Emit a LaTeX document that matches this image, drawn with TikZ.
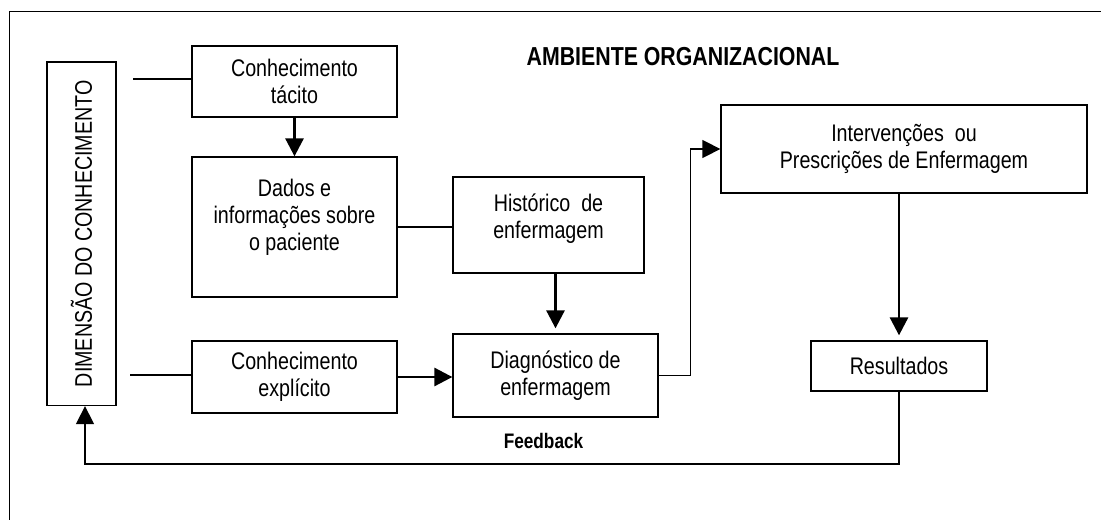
\documentclass[tikz,border=0pt]{standalone}
\usepackage{fontspec}
\setmainfont[FakeStretch=0.82]{Liberation Sans}
\usetikzlibrary{arrows.meta}

\tikzset{
  blk/.style={draw, line width=0.65pt, align=center, inner sep=0pt,
    font=\fontsize{12}{13.5}\selectfont},
  seta/.style={line width=1.4pt, -{Triangle[length=9pt,width=9pt]}},
  liga/.style={line width=0.7pt},
}

\begin{document}
\begin{tikzpicture}[x=0.5pt,y=-0.5pt]
\useasboundingbox (0,0) rectangle (1101,519);
% moldura
\draw[line width=0.75pt] (9.5,530) -- (9.5,11.5) -- (1110,11.5);
\node[font=\fontsize{13}{15}\selectfont\bfseries] (amb) at (683,57) {AMBIENTE ORGANIZACIONAL};

% caixas
\node[blk, minimum width=34.5pt, minimum height=171.75pt] (dim) at (81.5,233.75)
  {\rotatebox{90}{DIMENSÃO DO CONHECIMENTO}};
\node[blk, minimum width=102.5pt, minimum height=35.5pt] (tacito) at (294.5,81.5)
  {Conhecimento\\tácito};
\node[blk, minimum width=102.5pt, minimum height=70pt,
  label={[blk,draw=none,yshift=4.75pt]center:Dados e\\informações sobre\\o paciente}]
  (dados) at (294.5,227) {};
\node[blk, minimum width=95.5pt, minimum height=48pt,
  label={[blk,draw=none,yshift=3pt]center:Histórico~ de\\enfermagem}]
  (hist) at (548.5,225) {};
\node[blk, minimum width=102.5pt, minimum height=36pt] (explicito) at (294.5,377)
  {Conhecimento\\explícito};
\node[blk, minimum width=102.5pt, minimum height=41.5pt] (diag) at (555.5,375.5)
  {Diagnóstico de\\enfermagem};
\node[blk, minimum width=183pt, minimum height=44pt] (interv) at (904,149)
  {Intervenções~ ou\\Prescrições de Enfermagem};
\node[blk, minimum width=88pt, minimum height=25pt] (result) at (899,366)
  {Resultados};
\node[font=\fontsize{10.5}{12}\selectfont\bfseries] (feed) at (543.5,441) {Feedback};

% ligacoes
\coordinate (ta) at (133,79);
\coordinate (ex) at (130,375);
\coordinate (fb) at (85,464);
\draw[liga] (ta) -- (ta -| tacito.west);
\draw[liga] (ex) -- (ex -| explicito.west);
\draw[seta] (tacito.south) -- (dados.north);
\draw[liga] (dados.east) -- (dados.east -| hist.west);
\draw[seta, shorten >=2.5pt] (hist.south -| diag.north) -- (diag.north);
\draw[seta] (explicito.east) -- (explicito.east -| diag.west);
\draw[liga, -{Triangle[length=9pt,width=9pt]}] (diag.east) -- ++(32,0) |- (interv.west);
\draw[seta, shorten >=2.5pt] (interv.south -| result.north) -- (result.north);
\draw[liga, -{Triangle[length=9pt,width=9pt]}] (result.south) |- (fb) -- (fb |- dim.south);
\end{tikzpicture}
\end{document}
